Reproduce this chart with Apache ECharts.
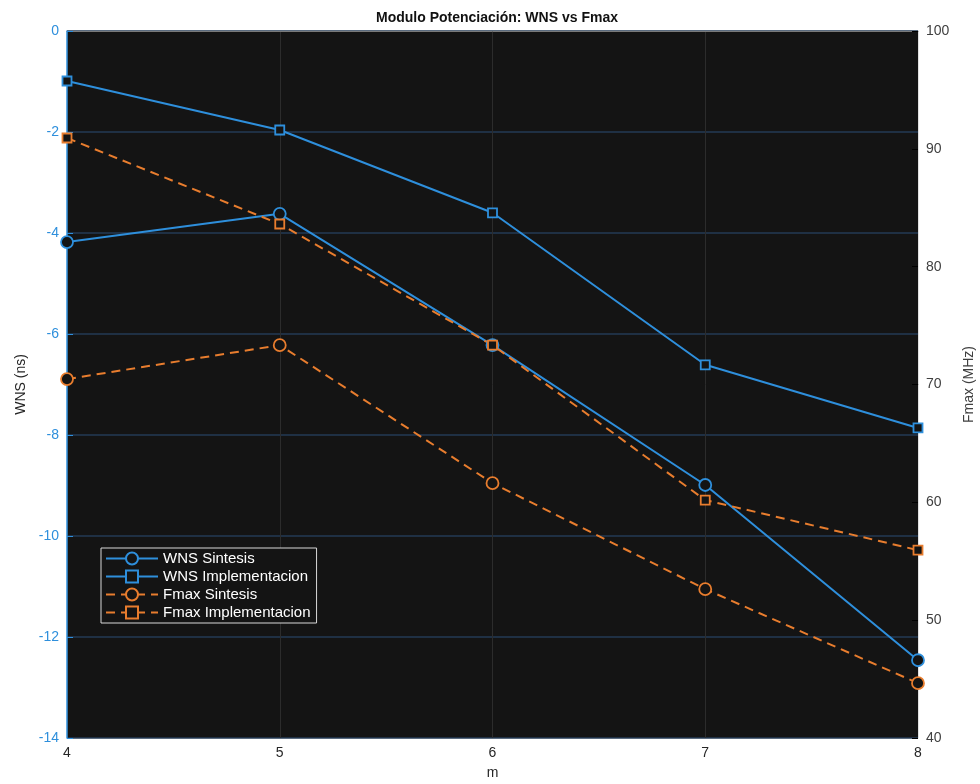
<!DOCTYPE html>
<html>
<head>
<meta charset="utf-8">
<script src="https://cdn.jsdelivr.net/npm/echarts@6/dist/echarts.min.js"></script>
<style>
  html, body { margin: 0; padding: 0; background: #fff; }
  #chart { width: 980px; height: 784px; }
</style>
</head>
<body>
<div id="chart"></div>
<script>
// valores
var mValues = [4, 5, 6, 7, 8];
var wnsSintesis = [-4.18, -3.62, -6.22, -8.99, -12.46];
var wnsImpl = [-0.99, -1.96, -3.60, -6.61, -7.86];
var fmaxSintesis = [70.46, 73.34, 61.63, 52.63, 44.65];
var fmaxImpl = [90.92, 83.62, 73.34, 60.19, 55.94];

var BLUE = '#2e8fdc';
var ORANGE = '#e87d2e';
var BG = '#141414';
var FONT = '"Liberation Sans", Arial, sans-serif';

function pairs(ys) {
  return mValues.map(function (m, i) { return [m, ys[i]]; });
}

function mkSeries(name, ys, color, axis, symbol, dashed) {
  return {
    name: name,
    type: 'line',
    yAxisIndex: axis,
    data: pairs(ys),
    symbol: symbol,
    symbolSize: symbol === 'circle' ? 12 : 9,
    showSymbol: true,
    lineStyle: { color: color, width: 2, type: dashed ? [9, 6] : 'solid' },
    itemStyle: { color: BG, borderColor: color, borderWidth: 1.8 },
    emphasis: { disabled: true },
    z: 3
  };
}

var chart = echarts.init(document.getElementById('chart'));
var option = {
  backgroundColor: '#ffffff',
  animation: false,
  textStyle: { fontFamily: FONT },
  title: {
    text: 'Modulo Potenciación: WNS vs Fmax',
    left: 492, top: 6, textAlign: 'center',
    textStyle: { fontSize: 14, fontWeight: 'bold', color: '#111', fontFamily: FONT }
  },
  grid: {
    left: 67, right: 62, top: 31, bottom: 46,
    outerBoundsMode: 'none', containLabel: false,
    show: true, backgroundColor: BG, borderWidth: 0
  },
  legend: {
    orient: 'vertical',
    left: 101, top: 548,
    backgroundColor: BG,
    borderColor: '#d8d8d8', borderWidth: 1,
    padding: [3, 6, 3, 4],
    itemGap: 3,
    itemWidth: 52, itemHeight: 15,
    textStyle: { color: '#ffffff', fontSize: 15, fontFamily: FONT },
    data: ['WNS Sintesis', 'WNS Implementacion', 'Fmax Sintesis', 'Fmax Implementacion']
  },
  xAxis: {
    type: 'value', min: 4, max: 8, interval: 1,
    name: 'm', nameLocation: 'middle', nameGap: 28,
    nameTextStyle: { color: '#262626', fontSize: 14 },
    axisLine: { show: true, lineStyle: { color: '#7a7a7a' } },
    axisTick: { show: false },
    axisLabel: { color: '#262626', fontSize: 14, margin: 8 },
    splitLine: { show: true, lineStyle: { color: '#2c2c2c', width: 1 } }
  },
  yAxis: [
    {
      type: 'value', min: -14, max: 0, interval: 2, position: 'left',
      name: 'WNS (ns)', nameLocation: 'middle', nameGap: 38, nameRotate: 90,
      nameTextStyle: { color: '#262626', fontSize: 14 },
      axisLine: { show: true, lineStyle: { color: BLUE, width: 1.5 } },
      axisTick: { show: true, inside: true, length: 6, lineStyle: { color: BLUE } },
      axisLabel: { color: BLUE, fontSize: 14, margin: 8 },
      splitLine: { show: true, lineStyle: { color: '#233a55', width: 1.5 } }
    },
    {
      type: 'value', min: 40, max: 100, interval: 10, position: 'right',
      name: 'Fmax (MHz)', nameLocation: 'middle', nameGap: 44, nameRotate: 90,
      nameTextStyle: { color: '#404040', fontSize: 14 },
      axisLine: { show: true, lineStyle: { color: '#e0e0e0', width: 1 } },
      axisTick: { show: true, inside: true, length: 6, lineStyle: { color: '#000' } },
      axisLabel: { color: '#404040', fontSize: 14, margin: 8 },
      splitLine: { show: false }
    }
  ],
  series: [
    mkSeries('WNS Sintesis', wnsSintesis, BLUE, 0, 'circle', false),
    mkSeries('WNS Implementacion', wnsImpl, BLUE, 0, 'rect', false),
    mkSeries('Fmax Sintesis', fmaxSintesis, ORANGE, 1, 'circle', true),
    mkSeries('Fmax Implementacion', fmaxImpl, ORANGE, 1, 'rect', true)
  ]
};
chart.setOption(option);
</script>
</body>
</html>
